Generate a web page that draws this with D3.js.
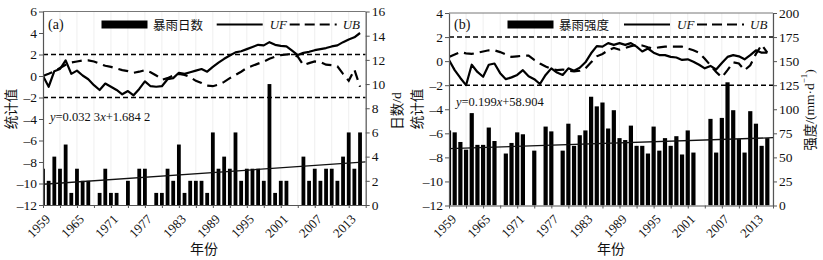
<!DOCTYPE html>
<html>
<head>
<meta charset="utf-8">
<script src="https://cdnjs.cloudflare.com/ajax/libs/d3/7.8.5/d3.min.js"></script>
<style>
  body { margin: 0; background: #fff; }
  svg { display: block; }
  text { font-family: "Liberation Serif", "Times New Roman", serif; fill: #111; }
  .cjk { font-family: "Noto Sans CJK SC", sans-serif; }
</style>
</head>
<body>
<div id="container"></div>
<script>
// years along the x axis
let years = [1959, 1960, 1961, 1962, 1963, 1964, 1965, 1966, 1967, 1968,
  1969, 1970, 1971, 1972, 1973, 1974, 1975, 1976, 1977, 1978,
  1979, 1980, 1981, 1982, 1983, 1984, 1985, 1986, 1987, 1988,
  1989, 1990, 1991, 1992, 1993, 1994, 1995, 1996, 1997, 1998,
  1999, 2000, 2001, 2002, 2003, 2004, 2005, 2006, 2007, 2008,
  2009, 2010, 2011, 2012, 2013, 2014, 2015];

// (a) rainstorm days (d)
let stormDays = [3, 2, 4, 3, 5, 1, 3, 2, 2, 0,
  1, 3, 1, 1, 0, 2, 0, 3, 3, 0,
  1, 1, 3, 2, 5, 1, 2, 2, 2, 1,
  6, 3, 4, 3, 6, 2, 3, 3, 3, 2,
  10, 1, 2, 2, 0, 0, 4, 2, 3, 2,
  3, 3, 2, 4, 6, 3, 6];
let ufDays = [0, -1.0, 0.45, 0.65, 1.45, 0.2, 0.5, 0.05, -0.3, -0.85,
  -1.3, -0.7, -1.0, -1.3, -1.7, -1.4, -1.8, -1.2, -0.5, -0.95,
  -1.0, -0.95, -0.3, -0.2, 0.3, 0.2, 0.35, 0.5, 0.65, 0.4,
  0.85, 1.25, 1.6, 1.9, 2.2, 2.3, 2.5, 2.7, 2.9, 2.85,
  3.15, 2.9, 2.8, 2.75, 2.35, 1.95, 2.15, 2.25, 2.4, 2.5,
  2.6, 2.75, 2.85, 3.15, 3.4, 3.6, 4.0];
let ubDays = [0, 0.2, 0.45, 0.75, 1.05, 1.25, 1.35, 1.45, 1.45, 1.35,
  1.15, 0.95, 0.85, 0.7, 0.55, 0.45, 0.3, 0.4, 0.55, 0.35,
  0.05, -0.35, -0.2, 0.05, 0.2, 0.1, -0.1, -0.45, -0.65, -0.9,
  -0.95, -0.8, -0.55, -0.2, 0.1, 0.4, 0.75, 0.95, 1.15, 1.35,
  1.6, 1.8, 1.95, 2.0, 2.05, 1.8, 1.0, 1.2, 1.35, 1.3,
  1.05, 1.0, 0.9, 0.2, -0.45, 0.6, -1.0];

// (b) rainstorm intensity (mm/d)
let stormIntensity = [78, 76, 66, 58, 96, 63, 63, 81, 67, 0,
  54, 65, 76, 74, 0, 57, 0, 82, 77, 0,
  57, 85, 62, 73, 78, 113, 103, 107, 80, 99,
  70, 68, 83, 62, 62, 54, 82, 57, 70, 62,
  72, 53, 78, 55, 0, 0, 90, 55, 91, 128,
  99, 69, 55, 98, 85, 62, 70];
let ufIntensity = [0.1, -0.75, -1.4, -2.0, -0.3, -0.9, -1.3, -0.3, -0.2, -1.0,
  -1.5, -1.35, -1.15, -0.75, -1.25, -1.5, -1.9, -1.15, -0.6, -0.95,
  -1.15, -0.6, -0.8, -0.55, -0.1, 0.65, 1.25, 1.2, 1.5, 1.35,
  1.5, 1.35, 1.5, 1.2, 0.8, 1.05, 0.7, 0.5, 0.5, 0.35,
  0.3, 0.1, 0.15, -0.05, -0.3, -0.6, -0.4, -0.7, -0.15, 0.35,
  0.5, 0.4, 0.15, 0.5, 0.9, 0.7, 0.7];
let ubIntensity = [0.35, 0.55, 0.75, 0.65, 0.6, 0.7, 0.8, 0.9, 0.9, 0.75,
  0.55, 0.35, 0.4, 0.45, 0.45, 0.1, -0.2, -0.45, -0.65, -0.75,
  -0.7, -0.8, -0.85, -0.8, -0.6, -0.1, 0.4, 0.6, 0.9, 1.1,
  0.95, 1.1, 1.25, 1.35, 1.3, 1.15, 1.05, 1.15, 1.2, 1.2,
  1.2, 1.2, 1.05, 0.9, 0.7, 0.2, -0.35, -0.9, -1.35, -0.75,
  -0.1, -0.2, -0.75, -0.35, 0.6, 1.35, 0.7];

// ticks
let yearTicks = [1959, 1962, 1965, 1968, 1971, 1974, 1977, 1980, 1983, 1986, 1989,
  1992, 1995, 1998, 2001, 2004, 2007, 2010, 2013, 2016];
let yearLabels = [1959, 1965, 1971, 1977, 1983, 1989, 1995, 2001, 2007, 2013];
let leftTicksA = [-12, -10, -8, -6, -4, -2, 0, 2, 4, 6];
let rightTicksA = [0, 2, 4, 6, 8, 10, 12, 14, 16];
let leftTicksB = [-12, -10, -8, -6, -4, -2, 0, 2, 4];
let rightTicksB = [0, 25, 50, 75, 100, 125, 150, 175, 200];

let w = 823;
let h = 260;

let viz = d3.select("#container")
  .append("svg")
    .attr("width", w)
    .attr("height", h)
;

function minusFormat(d){
  return d < 0 ? "\u2013" + (-d) : "" + d;
}

function drawPanel(p){
  let x = d3.scaleLinear().domain([1959, 2016]).range([p.x0, p.x1]);
  let yL = d3.scaleLinear().domain(p.leftDomain).range([p.y1, p.y0]);
  let yR = d3.scaleLinear().domain(p.rightDomain).range([p.y1, p.y0]);

  let g = viz.append("g");

  g.append("clipPath").attr("id", p.id + "clip")
    .append("rect")
      .attr("x", p.x0).attr("y", p.y0)
      .attr("width", p.x1 - p.x0).attr("height", p.y1 - p.y0);

  let plot = g.append("g").attr("clip-path", "url(#" + p.id + "clip)");

  // faint grid at the year ticks
  plot.selectAll(".grid").data(yearTicks).enter()
    .append("line")
      .attr("x1", d => x(d)).attr("x2", d => x(d))
      .attr("y1", p.y0).attr("y2", p.y1)
      .attr("stroke", "#efefef")
      .attr("stroke-width", 1);

  // bars (right axis)
  plot.selectAll(".bar").data(years).enter()
    .append("rect")
      .attr("x", d => x(d) - p.barW / 2)
      .attr("y", (d, i) => yR(p.bars[i]))
      .attr("width", p.barW)
      .attr("height", (d, i) => yR(0) - yR(p.bars[i]))
      .attr("fill", "#000");

  // linear trend line
  plot.append("line")
    .attr("x1", x(1959)).attr("x2", x(2016))
    .attr("y1", yR(p.slope * 1 + p.intercept))
    .attr("y2", yR(p.slope * 58 + p.intercept))
    .attr("stroke", "#111")
    .attr("stroke-width", 1.3);

  // +-2 significance lines
  [-2, 2].forEach(function(v){
    plot.append("line")
      .attr("x1", p.x0).attr("x2", p.x1)
      .attr("y1", yL(v)).attr("y2", yL(v))
      .attr("stroke", "#000")
      .attr("stroke-width", 1.5)
      .attr("stroke-dasharray", "5,3");
  });

  let line = d3.line().x(d => x(d[0])).y(d => yL(d[1]));

  plot.append("path")
    .attr("d", line(years.map((d, i) => [d, p.uf[i]])))
    .attr("fill", "none")
    .attr("stroke", "#000")
    .attr("stroke-width", 2.2)
    .attr("stroke-linejoin", "round");

  plot.append("path")
    .attr("d", line(years.map((d, i) => [d, p.ub[i]])))
    .attr("fill", "none")
    .attr("stroke", "#000")
    .attr("stroke-width", 2.2)
    .attr("stroke-dasharray", "10,6");

  // frame top line
  g.append("line")
    .attr("x1", p.x0).attr("x2", p.x1)
    .attr("y1", p.y0).attr("y2", p.y0)
    .attr("stroke", "#777").attr("stroke-width", 1);

  // axes
  let leftAxis = d3.axisLeft(yL).tickValues(p.leftTicks).tickSize(4).tickSizeOuter(0)
    .tickPadding(2).tickFormat(minusFormat);
  let la = g.append("g").attr("transform", "translate(" + p.x0 + ",0)").call(leftAxis);

  let rightAxis = d3.axisRight(yR).tickValues(p.rightTicks).tickSize(4).tickSizeOuter(0)
    .tickPadding(2);
  let ra = g.append("g").attr("transform", "translate(" + p.x1 + ",0)").call(rightAxis);

  let bottomAxis = d3.axisBottom(x).tickValues(yearTicks).tickSize(3).tickSizeOuter(0)
    .tickFormat("");
  let ba = g.append("g").attr("transform", "translate(0," + p.y1 + ")").call(bottomAxis);

  [la, ra, ba].forEach(function(a){
    a.attr("font-family", null).attr("font-size", null);
    a.select(".domain").attr("stroke", "#555").attr("stroke-width", 1.2);
    a.selectAll(".tick line").attr("stroke", "#555");
    a.selectAll(".tick text")
      .attr("font-size", "13.5px")
      .attr("fill", "#111");
  });

  // rotated year labels
  g.selectAll(".ylab").data(yearLabels).enter()
    .append("text")
      .text(d => d)
      .attr("text-anchor", "end")
      .attr("font-size", "13px")
      .attr("transform", d => "translate(" + (x(d) + 8) + ",220) rotate(-45)");

  // axis titles
  g.append("text")
    .attr("class", "cjk")
    .text("年份")
    .attr("x", p.xTitleX).attr("y", 254)
    .attr("text-anchor", "middle")
    .attr("font-size", "14px");

  g.append("text")
    .attr("class", "cjk")
    .text("统计值")
    .attr("text-anchor", "middle")
    .attr("dominant-baseline", "central")
    .attr("font-size", "13.5px")
    .attr("transform", "translate(" + (p.x0 - 33.5) + ",109) rotate(-90)");

  let rt = g.append("text")
    .attr("text-anchor", "middle")
    .attr("dominant-baseline", "central")
    .attr("font-size", "13.5px")
    .attr("transform", "translate(" + p.rTitleX + "," + p.rTitleY + ") rotate(-90)");
  p.rightTitle(rt);

  // panel letter
  g.append("text")
    .text(p.letter)
    .attr("x", p.x0 + 5).attr("y", 29)
    .attr("font-size", "14px");

  // legend
  g.append("rect")
    .attr("x", p.x0 + 58.5).attr("y", 20.5)
    .attr("width", 46).attr("height", 8)
    .attr("fill", "#000");
  g.append("text")
    .attr("class", "cjk")
    .text(p.barName)
    .attr("x", p.x0 + 110).attr("y", 24.5)
    .attr("dominant-baseline", "central")
    .attr("font-size", "12.5px");

  g.append("line")
    .attr("x1", p.x1 - 149).attr("x2", p.x1 - 103)
    .attr("y1", 24.5).attr("y2", 24.5)
    .attr("stroke", "#000").attr("stroke-width", 2.2);
  g.append("text")
    .text("UF")
    .attr("x", p.x1 - 96).attr("y", 29)
    .attr("font-style", "italic")
    .attr("font-size", "13px");
  g.append("line")
    .attr("x1", p.x1 - 76).attr("x2", p.x1 - 29)
    .attr("y1", 24.5).attr("y2", 24.5)
    .attr("stroke", "#000").attr("stroke-width", 2.2)
    .attr("stroke-dasharray", "10,5");
  g.append("text")
    .text("UB")
    .attr("x", p.x1 - 23).attr("y", 29)
    .attr("font-style", "italic")
    .attr("font-size", "13px");

  // trend equation
  let eq = g.append("text")
    .attr("x", p.x0 + 7).attr("y", p.eqY)
    .attr("font-size", "12.5px");
  eq.append("tspan").attr("font-style", "italic").text("y");
  eq.append("tspan").text(p.eqA);
  eq.append("tspan").attr("font-style", "italic").text("x");
  eq.append("tspan").text(p.eqB);
}

drawPanel({
  id: "a",
  letter: "(a)",
  x0: 43, x1: 365.7, y0: 11.5, y1: 205,
  leftDomain: [-12, 6], rightDomain: [0, 16],
  leftTicks: leftTicksA, rightTicks: rightTicksA,
  bars: stormDays, uf: ufDays, ub: ubDays,
  barW: 3.8,
  slope: 0.0323, intercept: 1.6842,
  barName: "暴雨日数",
  eqA: "=0.032 3", eqB: "+1.684 2", eqY: 121,
  xTitleX: 204,
  rTitleX: 396, rTitleY: 111,
  rightTitle: function(t){
    t.append("tspan").attr("class", "cjk").text("日数");
    t.append("tspan").text("/d");
  }
});

drawPanel({
  id: "b",
  letter: "(b)",
  x0: 449, x1: 773, y0: 13, y1: 205.5,
  leftDomain: [-12, 4], rightDomain: [0, 200],
  leftTicks: leftTicksB, rightTicks: rightTicksB,
  bars: stormIntensity, uf: ufIntensity, ub: ubIntensity,
  barW: 4.2,
  slope: 0.199, intercept: 58.904,
  barName: "暴雨强度",
  eqA: "=0.199", eqB: "+58.904", eqY: 106,
  xTitleX: 611,
  rTitleX: 809, rTitleY: 110,
  rightTitle: function(t){
    t.append("tspan").attr("class", "cjk").text("强度");
    t.append("tspan").text("/(mm\u00b7d");
    t.append("tspan").attr("font-size", "9px").attr("baseline-shift", "super").text("\u22121");
    t.append("tspan").text(")");
  }
});
</script>
</body>
</html>
